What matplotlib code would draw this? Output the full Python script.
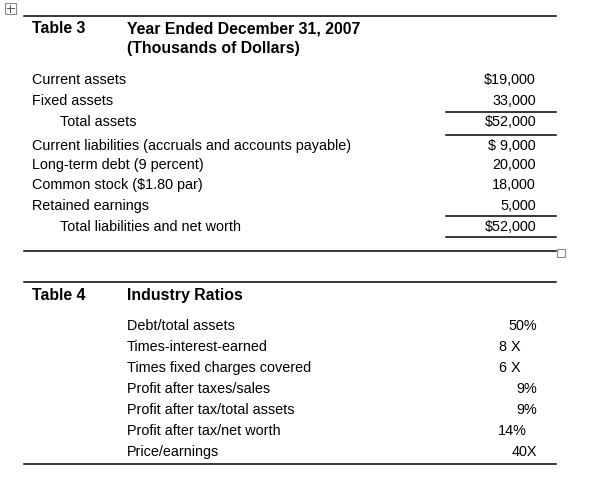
import matplotlib
matplotlib.use("Agg")
import matplotlib.pyplot as plt
from matplotlib.patches import Rectangle

plt.rcParams['font.family'] = ['Liberation Sans', 'DejaVu Sans']

# Table 3 data
t3_title = "Table 3"
t3_heading = ["Year Ended December 31, 2007", "(Thousands of Dollars)"]
t3_labels = ["Current assets", "Fixed assets", "Total assets",
             "Current liabilities (accruals and accounts payable)",
             "Long-term debt (9 percent)", "Common stock ($1.80 par)",
             "Retained earnings", "Total liabilities and net worth"]
t3_values = ["$19,000", "33,000", "$52,000", "$ 9,000", "20,000",
             "18,000", "5,000", "$52,000"]

# Table 4 data
t4_title = "Table 4"
t4_heading = "Industry Ratios"
t4_labels = ["Debt/total assets", "Times-interest-earned",
             "Times fixed charges covered", "Profit after taxes/sales",
             "Profit after tax/total assets", "Profit after tax/net worth",
             "Price/earnings"]
t4_values = ["50%", "8 X", "6 X", "9%", "9%", "14%", "40X"]

# layout (pixel coordinates, text baselines)
t3_rows_y = [84, 105, 126, 150, 169, 189, 210, 231]
t3_label_x = [32, 32, 60, 32, 32, 32, 32, 60]
t4_rows_y = [330, 351, 372, 393, 414, 435, 456]
t4_value_x = [537, 521, 521, 537, 537, 527, 537]

fig = plt.figure(figsize=(6.0, 4.79), dpi=100)
ax = fig.add_axes([0, 0, 1, 1])
ax.set_xlim(0, 600)
ax.set_ylim(479, 0)
ax.axis('off')

fs = 10.4
fsb = 11.4
vb = 'baseline'

# move handle
ax.add_patch(Rectangle((4.5, 2.5), 11, 11, fill=False, edgecolor='#8a8a8a', lw=0.8))
ax.plot([10, 10], [4.5, 11.5], color='#555555', lw=0.7)
ax.plot([6.5, 13.5], [8, 8], color='#555555', lw=0.7)

# Table 3
ax.plot([24, 556], [16, 16], color='black', lw=1.1)
ax.text(32, 33, t3_title, fontsize=fsb, fontweight='bold', va=vb)
ax.text(127, 33, t3_heading[0], fontsize=fsb, fontweight='bold', va=vb)
ax.text(127, 53, t3_heading[1], fontsize=fsb, fontweight='bold', va=vb)
for lab, val, y, x in zip(t3_labels, t3_values, t3_rows_y, t3_label_x):
    ax.text(x, y, lab, fontsize=fs, va=vb)
    ax.text(536, y, val, fontsize=fs, va=vb, ha='right')
for y in [112, 135, 216, 237]:
    ax.plot([446, 556], [y, y], color='black', lw=1.1)
ax.plot([24, 556], [251, 251], color='black', lw=1.1)
ax.add_patch(Rectangle((557, 248.5), 8, 8, fill=False, edgecolor='#8a8a8a', lw=0.8))

# Table 4
ax.plot([24, 556], [282, 282], color='black', lw=1.1)
ax.text(32, 300, t4_title, fontsize=fsb, fontweight='bold', va=vb)
ax.text(127, 300, t4_heading, fontsize=fsb, fontweight='bold', va=vb)
for lab, val, y, x in zip(t4_labels, t4_values, t4_rows_y, t4_value_x):
    ax.text(127, y, lab, fontsize=fs, va=vb)
    ax.text(x, y, val, fontsize=fs, va=vb, ha='right')
ax.plot([24, 556], [464, 464], color='black', lw=1.1)

fig.savefig("out.png", dpi=100)
